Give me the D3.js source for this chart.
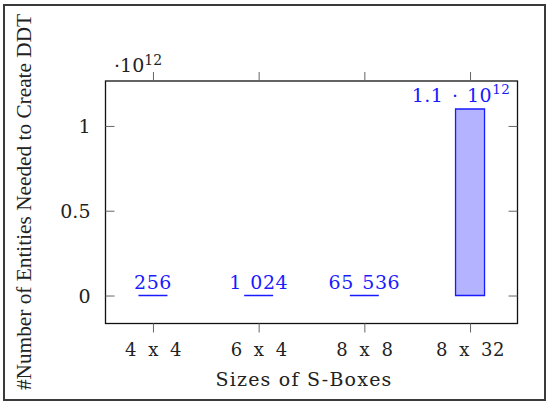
<!DOCTYPE html>
<html>
<head>
<meta charset="utf-8">
<script src="https://cdn.jsdelivr.net/npm/d3@7"></script>
<style>
  html, body { margin: 0; padding: 0; background: #fff; }
  svg { display: block; }
  text { font-family: "DejaVu Serif", serif; }
  .ytitle { font-family: "Liberation Serif", "Times New Roman", serif; }
</style>
</head>
<body>
<svg id="chart" width="550" height="408"></svg>
<script>
// ---- data ----
const categories = ["4 x 4", "6 x 4", "8 x 8", "8 x 32"];
const values = [256, 1024, 65536, 1.1e12];
const valueLabels = ["256", "1 024", "65 536", "1.1 · 10"];
const valueLabelExps = ["", "", "", "12"];
const yTicks = [0, 0.5, 1];
const yTickLabels = ["0", "0.5", "1"];
const yScaleExponent = "12";
const xTitle = "Sizes of S-Boxes";
const yTitle = "#Number of Entities Needed to Create DDT";

(function () {
// ---- layout ----
const svg = d3.select("#chart");
const pL = 105.5, pR = 517.5, pT = 81, pB = 323.5;
const unit = 1e12;
const serif = "'DejaVu Serif', serif";

// outer frame
svg.append("rect").attr("x", 4).attr("y", 5).attr("width", 541).attr("height", 395)
  .attr("fill", "none").attr("stroke", "#3a3a3a").attr("stroke-width", 2);

const x = d3.scalePoint().domain(categories).range([pL, pR]).padding(0.449);
const y = d3.scaleLinear().domain([-0.165, 1.265]).range([pB, pT]);
const barW = 29;

const g = svg.append("g");

// bars (as paths so zero-height bars still show their outline)
g.selectAll("path.bar").data(values).join("path")
  .attr("class", "bar")
  .attr("d", (d, i) => {
    const p = d3.path();
    const x0 = x(categories[i]) - barW / 2, y0 = y(d / unit);
    p.rect(x0, y0, barW, y(0) - y0);
    return p.toString();
  })
  .attr("fill", "#b3b3ff")
  .attr("stroke", "#1a1aff")
  .attr("stroke-width", 1.3);

// value labels
const vl = g.selectAll("text.vlabel").data(values).join("text")
  .attr("class", "vlabel")
  .attr("x", (d, i) => x(categories[i]) + (valueLabelExps[i] ? -9 : 0))
  .attr("y", d => y(d / unit) - 7)
  .attr("text-anchor", "middle")
  .attr("fill", "#1a1aff")
  .attr("font-family", serif)
  .attr("font-size", 19)
  .attr("letter-spacing", 0.5)
  .attr("word-spacing", 2)
  .text((d, i) => valueLabels[i]);
vl.filter((d, i) => valueLabelExps[i])
  .append("tspan").attr("dy", -8).attr("font-size", 13.5)
  .text(valueLabelExps[3]);

// plot box
g.append("rect").attr("x", pL).attr("y", pT)
  .attr("width", pR - pL).attr("height", pB - pT)
  .attr("fill", "none").attr("stroke", "#111").attr("stroke-width", 1.3);

// y axis (ticks inward, both sides)
const yAxisL = d3.axisRight(y).tickValues(yTicks).tickSize(9).tickFormat("");
const yAxisR = d3.axisLeft(y).tickValues(yTicks).tickSize(9).tickFormat("");
const gyl = g.append("g").attr("transform", `translate(${pL},0)`).call(yAxisL);
const gyr = g.append("g").attr("transform", `translate(${pR},0)`).call(yAxisR);
[gyl, gyr].forEach(a => {
  a.select(".domain").remove();
  a.selectAll(".tick line").attr("stroke", "#666").attr("stroke-width", 1);
});
g.selectAll("text.ytl").data(yTicks).join("text")
  .attr("class", "ytl")
  .attr("x", pL - 15).attr("y", d => y(d) + 7)
  .attr("text-anchor", "end").attr("font-family", serif).attr("font-size", 19).attr("fill", "#222")
  .text((d, i) => yTickLabels[i]);

// x axis (ticks outward top and bottom)
const xAxisB = d3.axisBottom(x).tickSize(9).tickPadding(6);
const xAxisT = d3.axisTop(x).tickSize(9).tickFormat("");
const gxb = g.append("g").attr("transform", `translate(0,${pB})`).call(xAxisB);
const gxt = g.append("g").attr("transform", `translate(0,${pT})`).call(xAxisT);
[gxb, gxt].forEach(a => {
  a.select(".domain").remove();
  a.selectAll(".tick line").attr("stroke", "#666").attr("stroke-width", 1);
});
gxb.attr("font-family", serif);
gxb.selectAll(".tick text").attr("font-family", serif).attr("font-size", 18)
  .attr("fill", "#222").attr("word-spacing", 5).attr("letter-spacing", 0.5).attr("dy", "0.95em");

// scale exponent label
const ex = g.append("text").attr("x", 114).attr("y", 72).attr("font-family", serif)
  .attr("font-size", 19).attr("fill", "#222").text("·10");
ex.append("tspan").attr("dy", -7).attr("font-size", 14).text(yScaleExponent);

// axis titles
g.append("text").attr("x", 304).attr("y", 386).attr("text-anchor", "middle")
  .attr("font-family", serif)
  .attr("font-size", 19).attr("fill", "#222").attr("letter-spacing", 1.2).text(xTitle);
g.append("text").attr("class", "ytitle").attr("transform", "translate(31,202) rotate(-90)")
  .attr("text-anchor", "middle")
  .attr("font-family", "'Liberation Serif', 'Times New Roman', serif")
  .attr("font-size", 21.3).attr("fill", "#222").text(yTitle);
})();
</script>
</body>
</html>
